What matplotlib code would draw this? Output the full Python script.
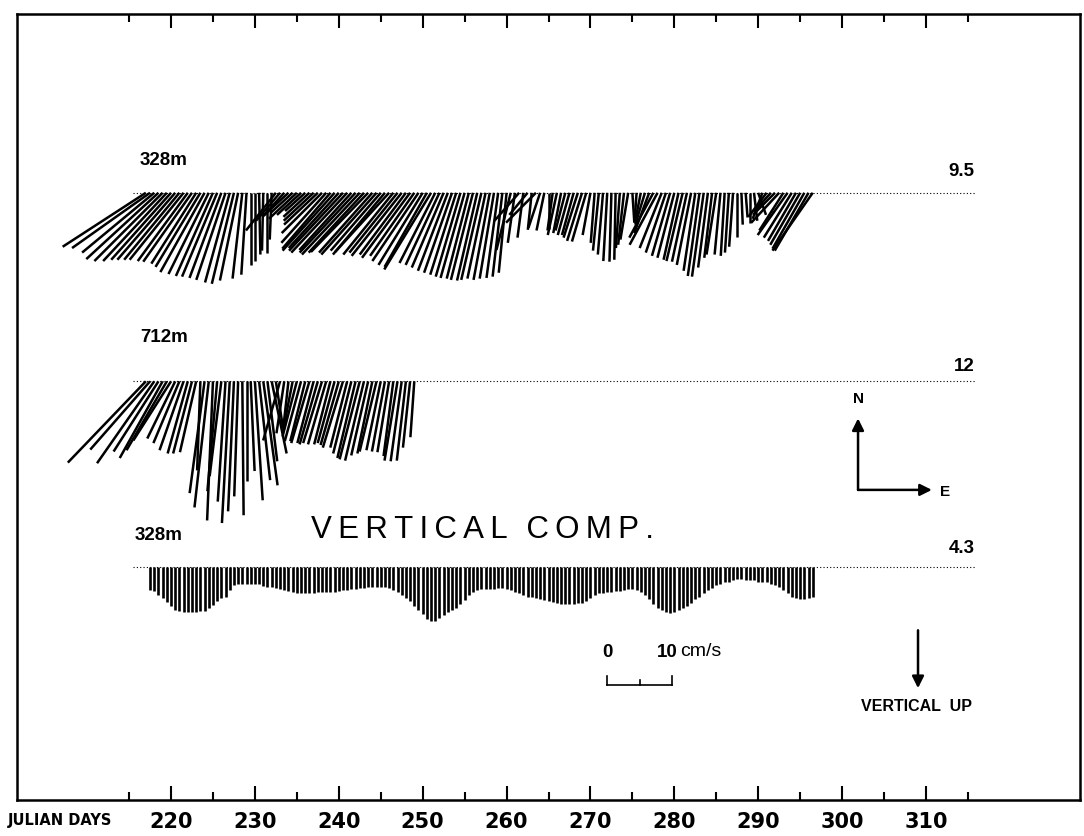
import matplotlib.pyplot as plt
import numpy as np
from matplotlib.collections import LineCollection

# half-day sample times (Julian days)
t_328 = np.arange(217.0, 296.51, 0.5)
t_712 = np.arange(217.0, 249.01, 0.5)
t_vert = np.arange(217.5, 296.51, 0.5)

# 328 m current, east / north components (cm/s)
u_328 = [-12.8, -12.0, -11.1, -11.1, -10.5, -9.8, -9.2, -8.9, -8.5, -8.3,
         -7.7, -7.5, -6.9, -6.9, -6.8, -6.2, -5.7, -5.4, -4.9, -4.5,
         -3.8, -3.4, -2.8, -1.5, -0.8, 0.0, 0.0, 0.2, -0.2, 0.0,
         -0.3, -4.6, -3.7, -3.1, -4.0, -3.4, -4.3, -3.7, -3.1, -4.0,
         -4.6, -5.2, -6.2, -6.9, -7.4, -8.0, -7.7, -8.3, -8.6, -8.0,
         -8.6, -8.9, -8.5, -8.8, -8.2, -8.5, -7.7, -8.0, -8.3, -7.7,
         -7.4, -7.7, -7.1, -7.4, -6.8, -7.1, -6.8, -6.5, -7.2, -5.5,
         -5.2, -4.9, -4.6, -4.3, -4.0, -3.8, -3.7, -3.4, -3.4, -3.1,
         -3.1, -2.8, -2.5, -2.2, -1.8, -1.5, -1.2, -2.2, -1.1, -3.8,
         -0.9, -2.8, -0.6, -4.6, -1.8, -1.2, 0.0, -0.8, -1.4, -1.2,
         -1.5, -1.8, -1.8, -2.2, -2.3, -2.2, -1.2, -0.6, -0.9, -0.8,
         -0.6, -0.3, -0.2, -0.6, -0.9, -1.2, 0.3, -0.3, -0.9, -1.5,
         -2.3, -3.7, -4.3, -3.4, -3.1, -2.8, -2.6, -2.3, -2.5, -2.3,
         -2.2, -1.8, -1.8, -1.8, -1.5, -1.2, -1.5, -0.9, -0.6, -0.6,
         -0.6, 0.0, 0.2, 0.3, 0.0, 0.5, 1.2, -1.5, -2.8, -2.5,
         -3.4, -4.3, -3.7, -4.6, -4.3, -4.3, -4.6, -4.9, -5.2, -6.2]
v_328 = [-8.3, -8.5, -9.2, -10.2, -10.5, -10.5, -10.3, -10.3, -10.3, -10.3,
         -10.5, -10.6, -10.9, -11.4, -12.2, -12.5, -12.8, -12.9, -13.1, -13.4,
         -13.8, -14.0, -13.5, -13.2, -12.6, -11.1, -10.5, -9.5, -8.9, -9.2,
         -7.2, -5.8, -4.3, -3.4, -3.7, -3.1, -4.0, -3.4, -2.8, -3.7,
         -4.3, -4.9, -6.2, -7.7, -8.6, -8.9, -8.5, -8.9, -9.2, -8.8,
         -9.2, -9.5, -9.2, -9.1, -9.2, -9.5, -8.9, -9.5, -9.1, -9.5,
         -9.2, -9.7, -9.5, -10.0, -9.7, -10.5, -11.1, -11.4, -11.8, -10.8,
         -11.1, -11.5, -12.0, -12.3, -12.6, -12.9, -13.1, -13.2, -13.4, -13.5,
         -13.4, -13.2, -13.4, -13.2, -13.1, -12.9, -12.3, -8.8, -7.7, -4.3,
         -6.9, -3.4, -5.7, -4.6, -5.4, -5.8, -5.5, -5.8, -6.5, -6.2,
         -5.8, -6.5, -6.5, -6.9, -7.4, -7.5, -6.5, -7.7, -8.9, -9.5,
         -10.5, -10.6, -10.3, -8.5, -8.0, -7.2, -4.6, -4.3, -4.6, -4.9,
         -6.2, -6.9, -8.0, -8.5, -9.2, -9.7, -10.0, -10.3, -10.5, -10.6,
         -11.1, -12.0, -12.8, -12.9, -11.5, -10.0, -9.5, -9.5, -9.7, -9.2,
         -8.3, -6.8, -4.9, -3.8, -4.6, -4.3, -3.4, -4.0, -3.7, -2.8,
         -3.4, -4.6, -5.8, -6.5, -6.9, -7.4, -8.0, -8.6, -8.9, -8.9]

# 712 m current (cm/s)
u_712 = [-12.0, -9.2, -8.8, -6.9, -6.6, -6.2, -5.8, -4.3, -4.0, -3.7,
         -3.1, -2.9, -2.5, -0.5, -2.3, -2.2, -0.9, -1.5, -1.8, -1.2,
         -1.2, -0.9, -0.6, 0.2, 0.0, 0.6, 1.2, 1.7, 2.2, 1.5,
         2.3, 1.1, -2.6, -1.2, -0.8, -1.5, -2.2, -2.5, -2.3, -2.8,
         -2.5, -2.8, -2.9, -2.8, -2.5, -2.6, -2.8, -3.1, -2.6, -2.8,
         -2.8, -3.1, -2.9, -2.6, -2.3, -2.6, -2.2, -2.0, -1.8, -1.5,
         -2.0, -1.7, -1.4, -1.1, -0.6]
v_712 = [-12.5, -10.5, -12.6, -10.8, -11.8, -10.6, -9.1, -8.8, -9.5, -10.6,
         -11.1, -11.1, -10.9, -13.7, -17.2, -19.4, -21.4, -16.9, -14.6, -18.5,
         -21.8, -20.0, -17.7, -20.6, -15.4, -13.8, -18.3, -15.2, -16.0, -12.3,
         -11.1, -7.2, -9.1, -8.0, -7.2, -7.7, -8.5, -9.2, -9.2, -9.5,
         -9.5, -9.7, -9.5, -9.7, -9.7, -9.5, -9.8, -10.2, -10.2, -11.1,
         -11.8, -12.0, -12.2, -11.4, -11.1, -10.8, -10.6, -10.8, -10.9, -11.5,
         -12.2, -12.3, -12.2, -10.2, -8.6]

# 328 m vertical component, positive up (mm/s)
w_328 = [3.5, 3.7, 4.2, 4.8, 5.4, 6.0, 6.5, 6.8, 6.9, 6.9,
         6.9, 6.9, 6.8, 6.8, 6.3, 5.8, 5.2, 4.8, 4.5, 3.5,
         2.8, 2.6, 2.5, 2.5, 2.5, 2.5, 2.6, 2.9, 3.1, 3.1,
         3.2, 3.4, 3.5, 3.7, 3.8, 4.0, 4.0, 4.0, 4.0, 4.0,
         3.8, 3.8, 3.8, 3.8, 3.8, 3.7, 3.5, 3.5, 3.4, 3.4,
         3.2, 3.2, 3.1, 3.1, 3.1, 3.1, 3.1, 3.2, 3.5, 3.8,
         4.3, 4.8, 5.2, 6.0, 6.6, 7.2, 8.0, 8.3, 8.3, 7.8,
         7.4, 6.9, 6.6, 6.2, 5.7, 5.1, 4.3, 3.8, 3.5, 3.4,
         3.4, 3.4, 3.4, 3.2, 3.2, 3.4, 3.5, 3.8, 4.0, 4.2,
         4.5, 4.6, 4.8, 4.9, 5.1, 5.2, 5.4, 5.5, 5.7, 5.7,
         5.7, 5.7, 5.5, 5.5, 5.2, 4.8, 4.3, 4.0, 4.0, 3.8,
         3.8, 3.7, 3.7, 3.5, 3.4, 3.4, 3.5, 3.8, 4.3, 4.9,
         5.7, 6.2, 6.6, 6.9, 7.1, 6.9, 6.6, 6.3, 6.0, 5.5,
         4.9, 4.5, 4.0, 3.5, 3.2, 2.8, 2.5, 2.3, 2.2, 2.0,
         1.8, 1.8, 2.0, 2.0, 2.0, 2.2, 2.2, 2.3, 2.5, 2.8,
         3.1, 3.5, 4.0, 4.5, 4.8, 4.9, 4.9, 4.8, 4.5]

day_ticks = list(range(220, 311, 10))
day_labels = [str(d) for d in day_ticks]

# vertical offsets of the three records (cm/s units) and plot scaling
base_328, base_712, base_vert = -27.5, -56.5, -85.1
KX = 6.5 / 8.389          # days per cm/s so the sticks keep true direction
YTOP, YBOT = 0.0, -120.9

plt.rcParams['font.family'] = ['Liberation Sans', 'DejaVu Sans']

fig = plt.figure(figsize=(10.84, 8.36), dpi=100)
ax = fig.add_axes([17 / 1084, 36 / 836, 1063 / 1084, 786 / 836])
ax.set_xlim(201.64, 328.36)
ax.set_ylim(YBOT, YTOP)


def sticks(t, u, v, y0):
    t = np.asarray(t)
    segs = [[(ti, y0), (ti + ui * KX, y0 + vi)] for ti, ui, vi in zip(t, u, v)]
    return LineCollection(segs, colors='black', linewidths=1.8, capstyle='butt')


ax.add_collection(sticks(t_328, u_328, v_328, base_328))
ax.add_collection(sticks(t_712, u_712, v_712, base_712))
# vertical speed: upward flow is drawn downward
ax.vlines(t_vert, base_vert, base_vert - np.asarray(w_328), colors='black',
          linewidth=1.9)

for yb in (base_328, base_712, base_vert):
    ax.plot([215.5, 316.0], [yb, yb], ls=(0, (1, 2)), color='black', lw=0.8,
            zorder=0)

tb = dict(fontsize=13.5, fontweight='bold')
ax.text(216.3, -22.5, '328m', va='center', ha='left', **tb)
ax.text(315.8, -24.3, '9.5', va='center', ha='right', **tb)
ax.text(216.3, -49.7, '712m', va='center', ha='left', **tb)
ax.text(315.8, -54.2, '12', va='center', ha='right', **tb)
ax.text(215.7, -80.2, '328m', va='center', ha='left', **tb)
ax.text(315.8, -82.2, '4.3', va='center', ha='right', **tb)
ax.text(257.1, -79.4, 'V E R T I C A L   C O M P .'.replace(' ', '\u2009'),
        va='center', ha='center', fontsize=22.5)

# compass
arw = dict(arrowstyle='-|>,head_length=0.7,head_width=0.35', color='black',
           lw=1.8, shrinkA=0, shrinkB=0)
ax.annotate('', xy=(301.9, -62.2), xytext=(301.9, -73.2), arrowprops=arw)
ax.annotate('', xy=(310.7, -73.2), xytext=(301.9, -73.2), arrowprops=arw)
ax.text(301.9, -60.3, 'N', ha='center', va='bottom', fontsize=11,
        fontweight='bold')
ax.text(311.7, -73.5, 'E', ha='left', va='center', fontsize=11,
        fontweight='bold')

# vertical-up key
ax.annotate('', xy=(309.05, -103.7), xytext=(309.05, -94.8), arrowprops=arw)
ax.text(308.9, -105.3, 'VERTICAL  UP', ha='center', va='top', fontsize=11.5,
        fontweight='bold')

# 10 cm/s scale bar
x0 = 272.0
ax.plot([x0, x0 + 10 * KX], [-103.2, -103.2], color='black', lw=1.2)
for xs, h in ((x0, 1.3), (x0 + 5 * KX, 0.8), (x0 + 10 * KX, 1.3)):
    ax.plot([xs, xs], [-103.2, -103.2 + h], color='black', lw=1.2)
ax.text(x0, -98.2, '0', ha='center', va='center', **tb)
ax.text(x0 + 10 * KX - 0.6, -98.2, '10', ha='center', va='center', **tb)
ax.text(x0 + 10 * KX + 1.0, -98.0, 'cm/s', ha='left', va='center',
        fontsize=14)

ax.set_xticks(day_ticks)
ax.set_xticklabels(day_labels)
ax.set_xticks(list(range(215, 316, 10)), minor=True)
ax.set_yticks([])
ax.tick_params(which='both', direction='in', top=True, bottom=True, width=1.5)
ax.tick_params(which='major', length=10, pad=9)
ax.tick_params(which='minor', length=6)
for lab in ax.get_xticklabels():
    lab.set_family(['Liberation Sans Narrow', 'DejaVu Sans'])
    lab.set_fontweight('bold')
    lab.set_fontsize(15)
for sp in ax.spines.values():
    sp.set_linewidth(1.8)

fig.text(8 / 1084, 1 - 820 / 836, 'JULIAN DAYS', ha='left', va='center',
         fontsize=10.5, fontweight='bold',
         family=['Liberation Sans Narrow', 'DejaVu Sans'])

fig.savefig('out.png', dpi=100)
